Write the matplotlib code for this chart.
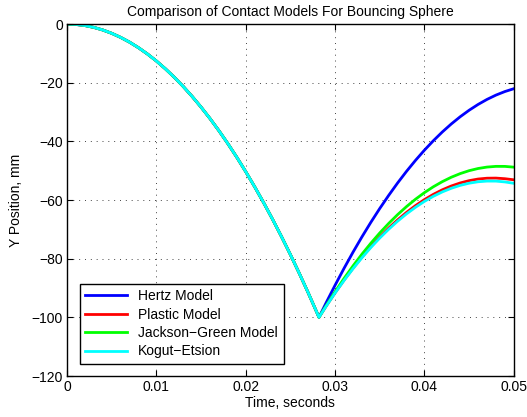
import matplotlib.pyplot as plt

plt.rcParams['font.family'] = ['Liberation Sans', 'DejaVu Sans']

# time samples (s)
t = [0, 0.001, 0.002, 0.003, 0.004, 0.005, 0.006, 0.007, 0.008, 0.009,
     0.010, 0.011, 0.012, 0.013, 0.014, 0.015, 0.016, 0.017, 0.018, 0.019,
     0.020, 0.021, 0.022, 0.023, 0.024, 0.025, 0.026, 0.027, 0.028, 0.0282,
     0.029, 0.030, 0.031, 0.032, 0.033, 0.034, 0.035, 0.036, 0.037, 0.038,
     0.039, 0.040, 0.041, 0.042, 0.043, 0.044, 0.045, 0.046, 0.047, 0.048,
     0.049, 0.050]

# shared free-fall part (mm)
fall = [0, -0.13, -0.50, -1.13, -2.01, -3.14, -4.53, -6.16, -8.05, -10.19,
        -12.57, -15.22, -18.11, -21.25, -24.65, -28.29, -32.19, -36.34, -40.74, -45.40,
        -50.30, -55.46, -60.86, -66.52, -72.43, -78.59, -85.01, -91.67, -98.59, -100.0]

# rebound parts (mm), t = 0.029 ... 0.050
hertz = [-95.03, -89.05, -83.31, -77.82, -72.59, -67.61, -62.88, -58.41, -54.17, -50.19,
         -46.47, -42.99, -39.77, -36.79, -34.07, -31.60, -29.38, -27.41, -25.69, -24.22,
         -23.01, -22.04]
plastic = [-96.17, -91.62, -87.31, -83.25, -79.45, -75.90, -72.60, -69.55, -66.75, -64.20,
           -61.90, -59.85, -58.06, -56.51, -55.22, -54.18, -53.39, -52.84, -52.56, -52.52,
           -52.73, -53.10]
jackson_green = [-96.01, -91.26, -86.74, -82.49, -78.48, -74.73, -71.22, -67.98, -64.97, -62.22,
                 -59.72, -57.47, -55.47, -53.73, -52.23, -50.99, -49.99, -49.25, -48.76, -48.52,
                 -48.53, -48.79]
kogut_etsion = [-96.22, -91.71, -87.45, -83.45, -79.70, -76.20, -72.95, -69.96, -67.21, -64.71,
                -62.47, -60.46, -58.72, -57.23, -55.99, -55.00, -54.26, -53.77, -53.54, -53.55,
                -53.83, -54.30]

labels = ['Hertz Model', 'Plastic Model', 'Jackson\u2212Green Model', 'Kogut\u2212Etsion']
colors = ['#0000ff', '#ff0000', '#00ff00', '#00ffff']

fig = plt.figure(figsize=(5.27, 4.17), dpi=100)
ax = fig.add_axes([0.127, 0.0983, 0.848, 0.844])

for rebound, lab, col in zip([hertz, plastic, jackson_green, kogut_etsion], labels, colors):
    ax.plot(t, fall + rebound, color=col, lw=2, label=lab)

ax.set_xlim(0, 0.05)
ax.set_ylim(-120, 0)
ax.set_xticks([0, 0.01, 0.02, 0.03, 0.04, 0.05])
ax.set_xticklabels(['0', '0.01', '0.02', '0.03', '0.04', '0.05'])
ax.set_yticks([-120, -100, -80, -60, -40, -20, 0])
ax.set_yticklabels(['\u2212120', '\u2212100', '\u221280', '\u221260', '\u221240', '\u221220', '0'])
ax.tick_params(direction='in', top=True, right=True, labelsize=10, length=4, pad=3)
ax.grid(True, color='#444444', linestyle=(0, (1, 5)), linewidth=0.7)
for s in ax.spines.values():
    s.set_linewidth(1)

ax.set_xlabel('Time, seconds', fontsize=10, labelpad=1)
ax.set_ylabel('Y Position, mm', fontsize=10, labelpad=6)
ax.set_title('Comparison of Contact Models For Bouncing Sphere', fontsize=10, pad=6)

leg = ax.legend(loc='lower left', bbox_to_anchor=(0.029, 0.034), fontsize=10,
                fancybox=False, framealpha=1, edgecolor='k', handlelength=3.0,
                borderaxespad=0, labelspacing=0.32)
leg.get_frame().set_linewidth(1)

fig.savefig('out.png', dpi=100)
